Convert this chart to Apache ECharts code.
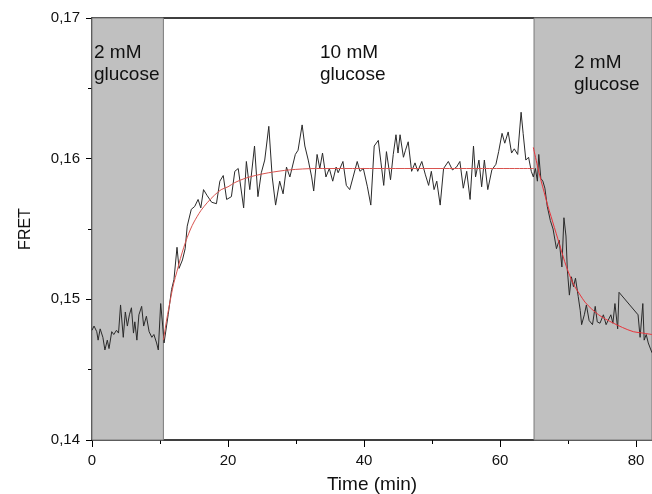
<!DOCTYPE html>
<html>
<head>
<meta charset="utf-8">
<script src="https://cdn.jsdelivr.net/npm/echarts@6/dist/echarts.min.js"></script>
<style>
html, body { margin: 0; padding: 0; background: #fff; }
#main { width: 652px; height: 494px; }
</style>
</head>
<body>
<div id="main"></div>
<script>
// measured trace, time in min
var times = [
  0.0, 0.3, 0.7, 0.9, 1.2, 1.6, 1.9, 2.25, 2.5, 2.9, 3.2, 3.6, 3.9, 4.2, 4.6, 4.9, 5.2, 5.5, 5.8, 6.1,
  6.3, 6.6, 6.9, 7.3, 7.6, 8.0, 8.4, 8.8, 9.1, 9.5, 9.75, 10.1, 10.4, 10.6, 11.2, 11.7, 12.05, 12.5, 12.8, 13.3,
  13.7, 14.0, 14.6, 15.1, 15.6, 16.0, 16.4, 16.9, 17.6, 18.3, 18.8, 19.3, 19.8, 20.5, 21.0, 21.5, 22.3, 22.7, 23.2, 23.9,
  24.4, 24.9, 25.4, 26.0, 26.5, 27.0, 27.6, 28.1, 28.6, 29.1, 29.9, 30.3, 30.9, 31.3, 31.8, 32.3, 32.6, 33.1, 33.5, 33.9,
  34.4, 34.9, 35.4, 35.9, 36.2, 36.9, 37.4, 37.9, 38.4, 39.0, 39.4, 39.9, 40.5, 41.0, 41.5, 42.1, 42.5, 42.9, 43.3, 43.9,
  44.3, 44.7, 45.0, 45.3, 45.8, 46.1, 46.5, 47.0, 47.5, 47.9, 48.5, 49.0, 49.5, 49.9, 50.3, 50.7, 51.2, 51.7, 52.4, 53.0,
  53.6, 54.1, 54.6, 55.1, 55.6, 56.1, 56.4, 56.9, 57.3, 57.7, 58.2, 58.8, 59.4, 59.8, 60.3, 60.7, 61.2, 61.7, 62.1, 62.6,
  63.1, 63.4, 63.8, 64.2, 64.6, 64.9, 65.2, 65.5, 65.7, 66.0, 66.3, 66.6, 66.95, 67.4, 67.8, 68.3, 68.7, 69.1, 69.4, 69.7,
  69.9, 70.2, 70.5, 70.8, 71.1, 71.5, 71.8, 72.0, 72.4, 72.7, 73.1, 73.6, 74.0, 74.3, 74.7, 75.2, 75.6, 75.9, 76.3, 76.6,
  76.9, 77.3, 77.5, 80.3, 80.6, 81.0, 81.2, 81.5, 81.8, 82.35
];
var fret = [
  0.1478, 0.1481, 0.1477, 0.1471, 0.1479, 0.1473, 0.1464, 0.1471, 0.1465, 0.1477, 0.1475, 0.1478, 0.1476, 0.1496, 0.1473, 0.1491, 0.1481, 0.1489, 0.1494, 0.1476,
  0.1484, 0.1471, 0.1489, 0.1495, 0.1481, 0.1488, 0.1477, 0.1473, 0.1475, 0.1469, 0.1464, 0.1497, 0.1481, 0.1469, 0.1489, 0.1507, 0.1514, 0.1537, 0.1522, 0.1528,
  0.1536, 0.1552, 0.1564, 0.1566, 0.1571, 0.1565, 0.1578, 0.1574, 0.1569, 0.1568, 0.1584, 0.1588, 0.1571, 0.1573, 0.1591, 0.1593, 0.1565, 0.1598, 0.1578, 0.1609,
  0.1573, 0.1590, 0.1599, 0.1623, 0.1587, 0.1567, 0.1584, 0.1575, 0.1594, 0.1587, 0.1603, 0.1606, 0.1624, 0.1609, 0.1599, 0.1587, 0.1577, 0.1603, 0.1593, 0.1604,
  0.1587, 0.1593, 0.1584, 0.1594, 0.1590, 0.1598, 0.1581, 0.1578, 0.1587, 0.1598, 0.1591, 0.1593, 0.1580, 0.1567, 0.1609, 0.1613, 0.1597, 0.1581, 0.1605, 0.1585,
  0.1603, 0.1617, 0.1604, 0.1617, 0.1601, 0.1606, 0.1612, 0.1591, 0.1597, 0.1591, 0.1598, 0.1589, 0.1581, 0.1591, 0.1578, 0.1584, 0.1567, 0.1593, 0.1598, 0.1592,
  0.1594, 0.1598, 0.1579, 0.1591, 0.1571, 0.1609, 0.1587, 0.1599, 0.1580, 0.1599, 0.1578, 0.1592, 0.1596, 0.1605, 0.1618, 0.1611, 0.1619, 0.1604, 0.1607, 0.1603,
  0.1633, 0.1618, 0.1599, 0.1601, 0.1591, 0.1587, 0.1593, 0.1584, 0.1603, 0.1586, 0.1584, 0.1579, 0.1566, 0.1556, 0.1550, 0.1536, 0.1542, 0.1523, 0.1558, 0.1545,
  0.1521, 0.1503, 0.1516, 0.1509, 0.1515, 0.1502, 0.1492, 0.1482, 0.1489, 0.1496, 0.1485, 0.1482, 0.1495, 0.1484, 0.1483, 0.1489, 0.1482, 0.1485, 0.1489, 0.1483,
  0.1497, 0.1479, 0.1505, 0.1489, 0.1473, 0.1497, 0.1471, 0.1475, 0.1469, 0.1462
];

// fitted curves
var riseTimes = [10.5, 11.0, 11.5, 12.0, 12.5, 13.0, 13.5, 14.0, 14.5, 15.0, 16.0, 17.0, 18.0, 19.0, 20.0, 21.0, 22.5, 24.0, 26.0, 29.0, 33.0, 65.0];
var riseFit = [0.1471, 0.1486, 0.1499, 0.1511, 0.1520, 0.1529, 0.1537, 0.1544, 0.1550, 0.1555, 0.1563, 0.1569, 0.1574, 0.1578, 0.1580, 0.1583, 0.1586, 0.1588, 0.1590, 0.1592, 0.1593, 0.1593];
var fallTimes = [64.9, 65.5, 66.0, 66.5, 67.0, 67.5, 68.0, 68.5, 69.0, 69.5, 70.0, 70.5, 71.0, 71.8, 72.5, 73.5, 74.5, 75.5, 76.7, 78.0, 79.6, 81.0, 82.35];
var fallFit = [0.1608, 0.1595, 0.1585, 0.1576, 0.1567, 0.1559, 0.1551, 0.1543, 0.1535, 0.1527, 0.1520, 0.1514, 0.1509, 0.1503, 0.1498, 0.1493, 0.1489, 0.1486, 0.1483, 0.1480, 0.1477, 0.1476, 0.1475];

// 2 mM glucose periods
var lowGlucose = [[0, 10.5], [65, 82.35]];
var xTicks = [0, 20, 40, 60, 80];
var yTicks = [0.14, 0.15, 0.16, 0.17];

function pairs(xs, ys) {
  var out = [];
  for (var i = 0; i < xs.length; i++) out.push([xs[i], ys[i]]);
  return out;
}

var areas = lowGlucose.map(function (r) {
  return [{ xAxis: r[0] }, { xAxis: r[1] }];
});

var myChart = echarts.init(document.getElementById('main'));
var labelFont = 'Liberation Sans, Arial, sans-serif';
var noteStyle = function (txt) {
  return { text: txt, font: '19px ' + labelFont, fill: '#111', lineHeight: 22 };
};

var option = {
  animation: false,
  backgroundColor: '#fff',
  grid: { left: 92, right: 0, top: 18, bottom: 54, outerBoundsMode: 'none', containLabel: false },
  xAxis: [
    {
      type: 'value',
      min: xTicks[0],
      max: 82.35,
      interval: 20,
      name: 'Time (min)',
      nameLocation: 'middle',
      nameGap: 35,
      nameTextStyle: { fontSize: 19, color: '#111', fontFamily: labelFont },
      axisLine: { show: true, lineStyle: { color: '#000', width: 1.5 } },
      axisTick: { show: true, inside: false, length: 7, customValues: xTicks, lineStyle: { color: '#000' } },
      minorTick: { show: true, splitNumber: 2, length: 4, lineStyle: { color: '#000' } },
      splitLine: { show: false },
      axisLabel: {
        margin: 13, fontSize: 15, color: '#111', fontFamily: labelFont,
        customValues: xTicks,
        formatter: function (v) { return xTicks.indexOf(v) >= 0 ? String(v) : ''; }
      }
    },
    {
      // top frame line
      type: 'value',
      position: 'top',
      min: xTicks[0],
      max: 82.35,
      axisLine: { show: true, lineStyle: { color: '#000', width: 1.5 } },
      axisTick: { show: false },
      axisLabel: { show: false },
      splitLine: { show: false }
    }
  ],
  yAxis: {
    type: 'value',
    min: yTicks[0],
    max: yTicks[yTicks.length - 1],
    interval: 0.01,
    name: 'FRET',
    nameLocation: 'middle',
    nameGap: 58,
    nameTextStyle: { fontSize: 16, color: '#111', fontFamily: labelFont },
    axisLine: { show: true, lineStyle: { color: '#000', width: 1.5 } },
    axisTick: { show: true, inside: false, length: 6, lineStyle: { color: '#000' } },
    minorTick: { show: true, splitNumber: 2, length: 4, lineStyle: { color: '#000' } },
    splitLine: { show: false },
    axisLabel: {
      margin: 12, fontSize: 15, color: '#111', fontFamily: labelFont,
      formatter: function (v) { return v.toFixed(2).replace('.', ','); }
    }
  },
  series: [
    {
      // shaded 2 mM periods
      type: 'line',
      data: [],
      z: 1,
      markArea: {
        silent: true,
        itemStyle: { color: '#c0c0c0', borderColor: '#7a7a7a', borderWidth: 1 },
        data: areas
      }
    },
    {
      type: 'line',
      data: pairs(times, fret),
      showSymbol: false,
      z: 3,
      lineStyle: { color: '#2a2a2a', width: 1 }
    },
    {
      type: 'line',
      data: pairs(riseTimes, riseFit),
      showSymbol: false,
      smooth: 0.3,
      z: 4,
      lineStyle: { color: '#d9534f', width: 1 }
    },
    {
      type: 'line',
      data: pairs(fallTimes, fallFit),
      showSymbol: false,
      smooth: 0.3,
      z: 4,
      lineStyle: { color: '#e8333a', width: 1 }
    }
  ],
  graphic: [
    { type: 'text', left: 94, top: 42, z: 10, style: noteStyle('2 mM\nglucose') },
    { type: 'text', left: 320, top: 42, z: 10, style: noteStyle('10 mM\nglucose') },
    { type: 'text', left: 574, top: 52, z: 10, style: noteStyle('2 mM\nglucose') }
  ]
};

myChart.setOption(option);
</script>
</body>
</html>
